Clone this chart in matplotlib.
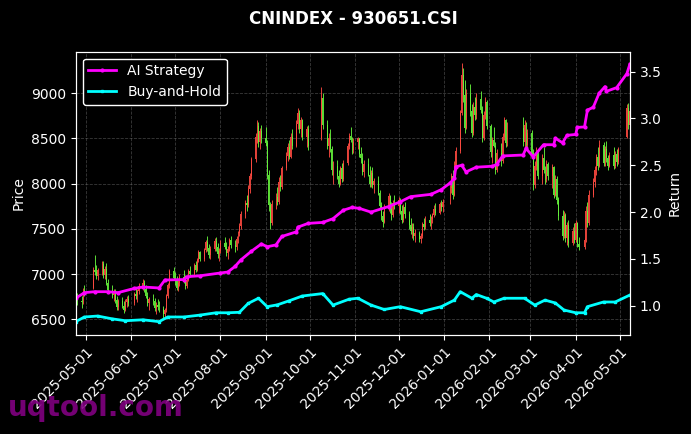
#!/usr/bin/env python3

import matplotlib
matplotlib.use("Agg")
import matplotlib.pyplot as plt
import matplotlib.dates as mdates
import numpy as np
import pandas as pd

# trading calendar (weekdays minus exchange holidays)
HOLIDAYS = ["2025-05-01", "2025-05-02", "2025-05-05", "2025-06-02",
            "2025-10-01", "2025-10-02", "2025-10-03", "2025-10-06", "2025-10-07", "2025-10-08",
            "2026-01-01", "2026-01-02",
            "2026-02-16", "2026-02-17", "2026-02-18", "2026-02-19", "2026-02-20", "2026-02-23",
            "2026-04-06", "2026-05-01", "2026-05-04", "2026-05-05"]

# daily OHLC, one block per month (Apr-2025 .. May-2026)
opens = [
    6800, 6740, 6700, 6690, 6820,
    6850, 7050, 7020, 6980, 7040, 7110, 6990, 7060, 6900, 6820, 6770, 6800, 6710, 6640, 6700, 6650, 6600, 6690, 6720,
    6680, 6780, 6760, 6810, 6870, 6900, 6830, 6760, 6680, 6720, 6700, 6620, 6660, 6640, 6610, 6560, 6600, 6760, 6880, 7030,
    6960, 6920, 6850, 6900, 6970, 6930, 6870, 6940, 7030, 7000, 7100, 7050, 7160, 7240, 7170, 7270, 7350, 7290, 7210, 7280, 7370, 7300, 7220,
    7260, 7340, 7300, 7230, 7280, 7380, 7320, 7300, 7390, 7450, 7530, 7660, 7790, 7760, 7940, 8080, 8270, 8520, 8640, 8460, 8580,
    8500, 8450, 8100, 7760, 7560, 7780, 7850, 7800, 8020, 7960, 8170, 8310, 8400, 8300, 8520, 8420, 8660, 8780, 8600, 8700, 8520, 8600,
    8500, 8950, 8650, 8420, 8500, 8380, 8150, 8200, 8080, 8000, 8170, 8050, 8230, 8420, 8530, 8480, 8370,
    8460, 8500, 8330, 8280, 8130, 8220, 8100, 8000, 8120, 7980, 8030, 7900, 7750, 7640, 7580, 7740, 7860, 7720, 7650, 7790,
    7750, 7820, 7700, 7600, 7740, 7660, 7540, 7480, 7520, 7420, 7450, 7390, 7420, 7550, 7520, 7600, 7560, 7610, 7650, 7720, 7680, 7770, 7740,
    7800, 7950, 8080, 7880, 8200, 8360, 8780, 9200, 8980, 8620, 8990, 8800, 8560, 8850, 8760, 8940, 8820, 8500, 8760, 8900,
    8640, 8350, 8480, 8420, 8150, 8340, 8250, 8520, 8700, 8450, 8620, 8460, 8650, 8430,
    8560, 8340, 7980, 8200, 8350, 8080, 8280, 8150, 8050, 8220, 8080, 8180, 7880, 8050, 7820, 7640, 7420, 7650, 7400, 7540, 7340, 7480,
    7380, 7560, 7330, 7300, 7380, 7700, 7560, 7880, 8020, 8150, 8290, 8200, 8430, 8230, 8380, 8280, 8200, 8320, 8190, 8330, 8240,
    8520, 8840, 8650,
]
highs = [
    6860, 6790, 6760, 6850, 6880,
    7080, 7210, 7100, 7070, 7150, 7140, 7090, 7120, 6950, 6880, 6830, 6840, 6760, 6730, 6750, 6700, 6720, 6760, 6770,
    6800, 6850, 6830, 6900, 6950, 6940, 6880, 6800, 6750, 6780, 6740, 6690, 6720, 6700, 6650, 6620, 6780, 6900, 7060, 7080,
    7020, 6980, 6940, 7000, 7040, 6990, 6960, 7060, 7090, 7120, 7150, 7180, 7270, 7260, 7290, 7380, 7420, 7330, 7310, 7400, 7410, 7340, 7290,
    7380, 7410, 7360, 7310, 7400, 7420, 7380, 7420, 7480, 7560, 7700, 7820, 7880, 7980, 8120, 8300, 8560, 8700, 8680, 8620, 8650,
    8630, 8480, 8150, 7800, 7820, 7900, 7960, 8070, 8100, 8200, 8350, 8450, 8480, 8560, 8610, 8700, 8840, 8820, 8740, 8720, 8640, 8650,
    9070, 9000, 8700, 8560, 8600, 8420, 8250, 8260, 8150, 8200, 8230, 8260, 8450, 8560, 8630, 8520, 8500,
    8520, 8510, 8400, 8340, 8260, 8280, 8190, 8150, 8180, 8060, 8080, 7930, 7800, 7700, 7780, 7900, 7880, 7800, 7820, 7880,
    7850, 7840, 7760, 7780, 7800, 7700, 7620, 7560, 7560, 7500, 7480, 7460, 7580, 7620, 7640, 7670, 7640, 7680, 7760, 7790, 7800, 7820, 7830,
    7980, 8120, 8150, 8250, 8400, 8820, 9330, 9280, 9150, 9050, 9100, 8880, 8900, 8960, 9000, 9020, 8860, 8800, 8960, 8920,
    8660, 8520, 8630, 8460, 8380, 8450, 8560, 8740, 8720, 8680, 8740, 8700, 8680, 8600,
    8590, 8380, 8250, 8400, 8380, 8330, 8400, 8200, 8260, 8240, 8220, 8200, 8100, 8080, 7850, 7710, 7700, 7680, 7580, 7600, 7520, 7560,
    7600, 7580, 7410, 7400, 7750, 7800, 7930, 8060, 8200, 8330, 8400, 8480, 8460, 8420, 8470, 8320, 8350, 8400, 8360, 8380, 8400,
    8880, 8890, 8860,
]
lows = [
    6700, 6660, 6620, 6670, 6760,
    6830, 6990, 6950, 6930, 6990, 6960, 6950, 6880, 6790, 6740, 6700, 6680, 6600, 6600, 6620, 6570, 6590, 6640, 6650,
    6660, 6730, 6690, 6780, 6820, 6800, 6740, 6650, 6600, 6660, 6590, 6560, 6600, 6580, 6520, 6510, 6580, 6740, 6850, 6930,
    6880, 6820, 6810, 6870, 6900, 6840, 6850, 6920, 6970, 6980, 7020, 7030, 7130, 7140, 7150, 7240, 7250, 7180, 7170, 7250, 7260, 7180, 7150,
    7230, 7280, 7200, 7170, 7260, 7290, 7240, 7270, 7340, 7420, 7500, 7620, 7700, 7740, 7900, 8050, 8240, 8450, 8400, 8380, 8450,
    8420, 8050, 7700, 7500, 7540, 7720, 7760, 7780, 7920, 7940, 8150, 8250, 8270, 8280, 8380, 8400, 8600, 8560, 8520, 8480, 8400, 8370,
    8480, 8600, 8380, 8300, 8350, 8100, 8000, 8050, 7960, 7980, 8020, 8030, 8210, 8380, 8460, 8330, 8340,
    8380, 8300, 8230, 8100, 8070, 8080, 7960, 7960, 7950, 7900, 7880, 7720, 7600, 7520, 7560, 7700, 7680, 7600, 7630, 7720,
    7680, 7660, 7560, 7580, 7620, 7500, 7440, 7400, 7380, 7360, 7350, 7340, 7400, 7490, 7500, 7530, 7500, 7570, 7630, 7650, 7660, 7700, 7690,
    7780, 7900, 7830, 7860, 8150, 8340, 8760, 8900, 8560, 8600, 8750, 8520, 8540, 8700, 8720, 8780, 8460, 8480, 8720, 8600,
    8300, 8230, 8400, 8110, 8130, 8200, 8230, 8480, 8400, 8420, 8420, 8370, 8400, 8380,
    8300, 7930, 7950, 8150, 8050, 8000, 8120, 8000, 8020, 8040, 7950, 7840, 7860, 7780, 7600, 7380, 7400, 7360, 7320, 7300, 7320, 7340,
    7360, 7300, 7270, 7280, 7360, 7520, 7540, 7850, 7960, 8100, 8150, 8180, 8190, 8200, 8240, 8150, 8180, 8160, 8170, 8200, 8220,
    8500, 8600, 8620,
]
closes = [
    6740, 6700, 6690, 6820, 6790,
    7050, 7020, 6980, 7040, 7110, 6990, 7060, 6900, 6820, 6770, 6800, 6710, 6640, 6700, 6650, 6600, 6690, 6720, 6680,
    6780, 6760, 6810, 6870, 6900, 6830, 6760, 6680, 6720, 6700, 6620, 6660, 6640, 6610, 6560, 6600, 6760, 6880, 7030, 6960,
    6920, 6850, 6900, 6970, 6930, 6870, 6940, 7030, 7000, 7100, 7050, 7160, 7240, 7170, 7270, 7350, 7290, 7210, 7280, 7370, 7300, 7220, 7260,
    7340, 7300, 7230, 7280, 7380, 7320, 7300, 7390, 7450, 7530, 7660, 7790, 7760, 7940, 8080, 8270, 8520, 8640, 8460, 8580, 8500,
    8450, 8100, 7760, 7560, 7780, 7850, 7800, 8020, 7960, 8170, 8310, 8400, 8300, 8520, 8420, 8660, 8780, 8600, 8700, 8520, 8600, 8420,
    8950, 8650, 8420, 8500, 8380, 8150, 8200, 8080, 8000, 8170, 8050, 8230, 8420, 8530, 8480, 8370, 8460,
    8500, 8330, 8280, 8130, 8220, 8100, 8000, 8120, 7980, 8030, 7900, 7750, 7640, 7580, 7740, 7860, 7720, 7650, 7790, 7750,
    7820, 7700, 7600, 7740, 7660, 7540, 7480, 7520, 7420, 7450, 7390, 7420, 7550, 7520, 7600, 7560, 7610, 7650, 7720, 7680, 7770, 7740, 7800,
    7950, 8080, 7880, 8200, 8360, 8780, 9200, 8980, 8620, 8990, 8800, 8560, 8850, 8760, 8940, 8820, 8500, 8760, 8900, 8640,
    8350, 8480, 8420, 8150, 8340, 8250, 8520, 8700, 8450, 8620, 8460, 8650, 8430, 8560,
    8340, 7980, 8200, 8350, 8080, 8280, 8150, 8050, 8220, 8080, 8180, 7880, 8050, 7820, 7640, 7420, 7650, 7400, 7540, 7340, 7480, 7380,
    7560, 7330, 7300, 7380, 7700, 7560, 7880, 8020, 8150, 8290, 8200, 8430, 8230, 8380, 8280, 8200, 8320, 8190, 8330, 8240, 8380,
    8840, 8650, 8800,
]

# equity curves (read at turning points)
ai_dates = ["2025-04-24", "2025-04-30", "2025-05-07", "2025-05-16", "2025-05-23", "2025-06-03", "2025-06-09",
            "2025-06-20", "2025-06-24", "2025-07-07", "2025-07-09", "2025-07-18", "2025-08-01", "2025-08-06",
            "2025-08-11", "2025-08-15", "2025-08-22", "2025-08-29", "2025-09-02", "2025-09-08", "2025-09-12",
            "2025-09-22", "2025-09-23", "2025-09-30", "2025-10-10", "2025-10-17", "2025-10-24", "2025-10-30",
            "2025-11-04", "2025-11-12", "2025-11-24", "2025-12-02", "2025-12-09", "2025-12-23", "2025-12-30",
            "2026-01-05", "2026-01-08", "2026-01-09", "2026-01-13", "2026-01-16", "2026-01-23", "2026-02-03",
            "2026-02-06", "2026-02-10", "2026-02-24", "2026-02-26", "2026-03-03", "2026-03-10", "2026-03-17",
            "2026-03-18", "2026-03-23", "2026-03-26", "2026-04-01", "2026-04-02", "2026-04-07", "2026-04-09",
            "2026-04-13", "2026-04-17", "2026-04-21", "2026-04-22", "2026-04-29", "2026-05-06", "2026-05-08"]
ai_return = [1.08, 1.14, 1.15, 1.15, 1.14, 1.185, 1.20,
             1.19, 1.275, 1.28, 1.31, 1.32, 1.35, 1.36,
             1.42, 1.49, 1.58, 1.66, 1.63, 1.65, 1.74,
             1.79, 1.84, 1.88, 1.89, 1.93, 2.02, 2.05,
             2.04, 2.00, 2.06, 2.11, 2.165, 2.19, 2.24,
             2.31, 2.36, 2.485, 2.50, 2.43, 2.48, 2.49,
             2.51, 2.60, 2.61, 2.68, 2.59, 2.72, 2.72,
             2.79, 2.74, 2.82, 2.83, 2.905, 2.91, 3.09,
             3.12, 3.27, 3.34, 3.29, 3.33, 3.48, 3.58]

bh_dates = ["2025-04-24", "2025-04-30", "2025-05-09", "2025-05-19", "2025-05-28", "2025-06-09", "2025-06-20",
            "2025-06-26", "2025-07-07", "2025-07-18", "2025-07-29", "2025-08-06", "2025-08-14", "2025-08-20",
            "2025-08-27", "2025-09-02", "2025-09-09", "2025-09-17", "2025-09-26", "2025-10-10", "2025-10-17",
            "2025-10-28", "2025-11-03", "2025-11-12", "2025-11-21", "2025-12-02", "2025-12-16", "2025-12-30",
            "2026-01-08", "2026-01-12", "2026-01-20", "2026-01-23", "2026-01-30", "2026-02-04", "2026-02-11",
            "2026-02-25", "2026-03-04", "2026-03-11", "2026-03-18", "2026-03-24", "2026-04-01", "2026-04-07",
            "2026-04-09", "2026-04-20", "2026-04-28", "2026-05-08"]
bh_return = [0.83, 0.88, 0.89, 0.86, 0.84, 0.85, 0.83,
             0.88, 0.88, 0.90, 0.925, 0.925, 0.93, 1.025,
             1.08, 0.99, 1.01, 1.053, 1.104, 1.13, 1.007,
             1.07, 1.08, 1.007, 0.96, 0.99, 0.936, 0.99,
             1.06, 1.15, 1.08, 1.12, 1.08, 1.04, 1.08,
             1.08, 1.007, 1.06, 1.03, 0.954, 0.925, 0.925,
             0.99, 1.04, 1.04, 1.114]

UP_COLOR = "#ff4a40"
DOWN_COLOR = "#66f53c"

days = pd.bdate_range("2025-04-24", "2026-05-08")
days = days[~days.isin(pd.to_datetime(HOLIDAYS))]
assert len(days) == len(opens) == len(highs) == len(lows) == len(closes), len(days)

o = np.array(opens, dtype=float)
h = np.array(highs, dtype=float)
l = np.array(lows, dtype=float)
c = np.array(closes, dtype=float)
x = mdates.date2num(days.to_pydatetime())
up = c >= o
colors = np.where(up, UP_COLOR, DOWN_COLOR)

plt.style.use("dark_background")
fig = plt.figure(figsize=(6.91, 4.34), dpi=100)
ax = fig.add_axes([0.1097, 0.228, 0.8023, 0.653])

ax.vlines(x, l, h, colors=colors, linewidth=0.7, alpha=0.9)
ax.bar(x, np.abs(c - o), bottom=np.minimum(o, c), width=0.65, color=colors,
       linewidth=0, alpha=0.9)

ax.set_ylim(6326, 9460)
ax.set_xlim(mdates.date2num(pd.Timestamp("2025-04-24 02:00")),
            mdates.date2num(pd.Timestamp("2026-05-08 06:00")))
ax.set_ylabel("Price")
ax.grid(True, linestyle="--", linewidth=0.6, color="gray", alpha=0.45)
ax.xaxis.set_major_locator(mdates.MonthLocator())
ax.xaxis.set_major_formatter(mdates.DateFormatter("%Y-%m-%d"))
plt.setp(ax.get_xticklabels(), rotation=45, ha="right", rotation_mode="anchor")
for sp in ax.spines.values():
    sp.set_color("white")

ax2 = ax.twinx()
ax2.plot(pd.to_datetime(ai_dates), ai_return, color="#ff00ff", linewidth=2,
         marker="o", markersize=2, label="AI Strategy")
ax2.plot(pd.to_datetime(bh_dates), bh_return, color="#00ffff", linewidth=2,
         marker="s", markersize=2, label="Buy-and-Hold")
ax2.set_ylim(0.687, 3.714)
ax2.set_ylabel("Return")
ax2.legend(loc="upper left", facecolor="black", edgecolor="white", framealpha=1.0)

ax.set_title("CNINDEX - 930651.CSI", fontsize=12, fontweight="bold", pad=20)

fig.text(0.012, 0.06, "uqtool.com", color="purple", fontsize=20, fontweight="bold",
         alpha=0.9, ha="left", va="center")

fig.savefig("out.png", dpi=100, facecolor="black")
